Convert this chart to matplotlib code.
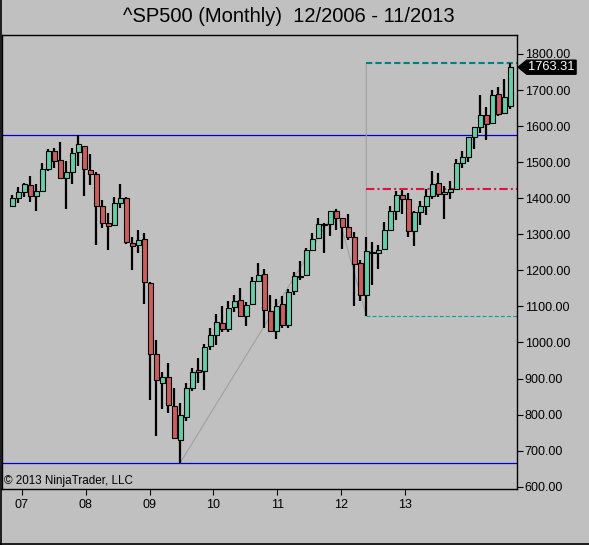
import numpy as np
import matplotlib
matplotlib.use("Agg")
import matplotlib.pyplot as plt
from matplotlib.patches import Polygon
from matplotlib.lines import Line2D
from matplotlib.transforms import blended_transform_factory

plt.rcParams['font.family'] = ['Liberation Sans', 'DejaVu Sans']

# monthly bars, first bar = Nov 2006, last = Oct 2013 (84 bars)
opens = [1377.34, 1400.63, 1418.03, 1437.90, 1406.80, 1420.83, 1482.37, 1530.62, 1504.66, 1455.18,
         1473.96, 1527.29, 1545.79, 1479.63, 1467.97, 1378.60, 1330.45, 1326.41, 1385.97, 1399.62,
         1276.69, 1269.42, 1287.83, 1164.17, 968.67, 888.61, 902.99, 823.09, 729.57, 793.59,
         872.74, 923.26, 920.82, 990.22, 1019.52, 1054.91, 1036.18, 1098.89, 1116.56, 1073.89,
         1105.36, 1171.23, 1188.58, 1087.30, 1031.10, 1107.53, 1049.72, 1143.49, 1183.27, 1186.60,
         1257.62, 1289.14, 1328.64, 1329.48, 1365.21, 1345.20, 1320.64, 1292.59, 1219.12, 1131.21,
         1251.00, 1246.91, 1258.86, 1312.45, 1365.90, 1408.47, 1397.86, 1309.87, 1362.33, 1379.32,
         1406.54, 1440.90, 1412.20, 1416.18, 1426.19, 1498.11, 1514.68, 1569.18, 1597.55, 1631.71,
         1609.78, 1689.42, 1635.95, 1657.00]
highs = [1407.89, 1431.81, 1441.61, 1461.57, 1438.89, 1498.02, 1535.56, 1540.56, 1555.90, 1503.89,
         1538.74, 1576.09, 1545.79, 1523.57, 1471.77, 1396.02, 1359.68, 1404.57, 1440.24, 1404.05,
         1292.17, 1313.15, 1303.04, 1167.03, 1007.51, 918.85, 943.85, 875.01, 832.98, 888.70,
         930.17, 956.23, 996.68, 1039.47, 1080.15, 1101.36, 1113.69, 1130.38, 1150.45, 1112.42,
         1180.69, 1219.80, 1205.13, 1131.23, 1120.95, 1129.24, 1148.90, 1196.14, 1227.08, 1262.60,
         1302.67, 1344.07, 1332.28, 1364.56, 1370.58, 1345.20, 1356.48, 1307.38, 1229.29, 1292.66,
         1277.55, 1269.37, 1333.47, 1378.04, 1419.15, 1422.38, 1415.32, 1363.46, 1391.74, 1426.68,
         1474.51, 1470.96, 1434.27, 1448.00, 1509.94, 1530.94, 1570.28, 1597.57, 1687.18, 1654.19,
         1698.78, 1709.67, 1729.86, 1775.22]
lows = [1377.34, 1385.93, 1403.97, 1389.42, 1363.98, 1416.37, 1476.70, 1484.18, 1454.25, 1370.60,
        1439.29, 1489.56, 1406.10, 1435.65, 1270.05, 1316.75, 1256.98, 1324.35, 1373.07, 1272.00,
        1200.44, 1248.64, 1106.42, 839.80, 741.02, 815.69, 804.22, 734.52, 666.79, 783.32,
        866.10, 888.86, 869.32, 978.51, 991.97, 1029.38, 1029.38, 1085.89, 1071.59, 1044.50,
        1105.36, 1170.69, 1040.78, 1028.33, 1010.91, 1039.70, 1039.70, 1131.87, 1173.00, 1186.60,
        1257.62, 1289.14, 1249.05, 1294.70, 1311.80, 1258.07, 1282.86, 1101.54, 1114.22, 1074.77,
        1158.66, 1202.37, 1258.86, 1312.45, 1340.03, 1357.38, 1291.98, 1266.74, 1325.41, 1354.65,
        1396.56, 1403.28, 1343.35, 1398.11, 1426.19, 1485.01, 1501.48, 1536.03, 1581.28, 1560.33,
        1604.57, 1627.47, 1633.41, 1646.47]
closes = [1400.63, 1418.30, 1438.24, 1406.82, 1420.86, 1482.37, 1530.62, 1503.35, 1455.27, 1473.99,
          1526.75, 1549.38, 1481.14, 1468.36, 1378.55, 1330.63, 1322.70, 1385.59, 1400.38, 1280.00,
          1267.38, 1282.83, 1166.36, 968.75, 896.24, 903.25, 825.88, 735.09, 797.87, 872.81,
          919.14, 919.32, 987.48, 1020.62, 1057.08, 1036.19, 1095.63, 1115.10, 1073.87, 1104.49,
          1169.43, 1186.69, 1089.41, 1030.71, 1101.60, 1049.33, 1141.20, 1183.26, 1180.55, 1257.64,
          1286.12, 1327.22, 1325.83, 1363.61, 1345.20, 1320.64, 1292.28, 1218.89, 1131.42, 1253.30,
          1246.96, 1257.60, 1312.41, 1365.68, 1408.47, 1397.91, 1310.33, 1362.16, 1379.32, 1406.58,
          1440.67, 1412.16, 1416.18, 1426.19, 1498.11, 1514.68, 1569.19, 1597.57, 1630.74, 1606.28,
          1685.73, 1632.97, 1681.55, 1763.31]

year_labels = ['07', '08', '09', '10', '11', '12', '13']
y_ticks = [600, 700, 800, 900, 1000, 1100, 1200, 1300, 1400, 1500, 1600, 1700, 1800]

opens = np.array(opens)
highs = np.array(highs)
lows = np.array(lows)
closes = np.array(closes)
idx = np.arange(len(closes))

BG = '#c0c0c0'
UP = '#66cdaa'
DOWN = '#cd5c5c'

fig = plt.figure(figsize=(5.89, 5.45), dpi=100, facecolor=BG)
ax = fig.add_axes([1.5 / 589, 1 - 489 / 545, 515.5 / 589, 454.5 / 545])
ax.set_facecolor(BG)
x_right = 84.12
ax.set_xlim(-1.8, x_right)
ax.set_ylim(593.7, 1854)

# candles
up = closes >= opens
ax.vlines(idx, lows, highs, color='black', lw=1.6, zorder=3)
body_lo = np.minimum(opens, closes)
body_h = np.maximum(np.abs(closes - opens), 1.0)
ax.bar(idx, body_h, bottom=body_lo, width=0.74,
       color=np.where(up, UP, DOWN), edgecolor='black', linewidth=0.8, zorder=4)

# horizontal levels (2007 top, 2009 bottom)
ax.axhline(highs[:14].max(), color='#0000c8', lw=0.9, zorder=2)
ax.axhline(lows.min(), color='#0000c8', lw=0.9, zorder=2)

# zigzag: 2009 low -> 2011 high -> 2011 low, then up to the recent high
i0 = int(np.argmin(lows))
i1 = int(np.argmax(highs[40:60])) + 40
i2 = int(np.argmin(lows[50:70])) + 50
top = highs.max()
ax.plot([i0, i1, i2, i2], [lows[i0], highs[i1], lows[i2], top],
        color='#a0a0a0', lw=0.8, zorder=2)

# retracement lines
ax.plot([i2, x_right], [top, top], color='#008080', lw=1.5, dashes=(3, 1.5), zorder=2)
ax.plot([i2, x_right], [lows[i2], lows[i2]], color='#00a0a0', lw=0.8, dashes=(3.5, 2), zorder=2)
mid = (top + lows[i2]) / 2
ax.plot([i2, x_right], [mid, mid], color='#dc143c', lw=1.5, dashes=(4, 1.5, 1, 1.5), zorder=2)

# axes styling
for s in ax.spines.values():
    s.set_color('black')
    s.set_linewidth(1.0)

ax.yaxis.tick_right()
ax.set_yticks(y_ticks)
ax.set_yticklabels([f'{v:.2f}' for v in y_ticks])
ax.tick_params(axis='y', direction='out', length=4, width=0.8, pad=1.5, labelsize=9, colors='black')

tick_pos = 1.57 + 10.65 * np.arange(len(year_labels))
ax.set_xticks(tick_pos)
ax.set_xticklabels(year_labels)
ax.tick_params(axis='x', direction='out', length=4, width=0.8, pad=3, labelsize=9, colors='black')

# last price marker
tr = blended_transform_factory(ax.transAxes, ax.transData)
last = closes[-1]
dy = 19.5
ax.add_patch(Polygon([(1.002, last), (1.019, last + dy), (1.1146, last + dy),
                      (1.1146, last - dy), (1.019, last - dy)],
                     closed=True, transform=tr, facecolor='black', edgecolor='black',
                     clip_on=False, zorder=5))
ax.text(1.022, last, f'{last:.2f}', transform=tr, color='white', fontsize=9.3,
        va='center', ha='left', clip_on=False, zorder=6)

ax.text(0.004, 0.017, '\u00a9 2013 NinjaTrader, LLC', transform=ax.transAxes,
        fontsize=8.4, va='center', ha='left')

fig.text(0.4907, 1 - 17 / 545, '^SP500 (Monthly)  12/2006 - 11/2013',
         ha='center', va='center', fontsize=14.5)

# window border
fig.add_artist(Line2D([0.5 / 589, 0.5 / 589], [0, 1], transform=fig.transFigure, color='black', lw=1.2))
fig.add_artist(Line2D([0, 1], [0.8 / 545, 0.8 / 545], transform=fig.transFigure, color='black', lw=1.2))

fig.savefig('out.png', dpi=100, facecolor=BG)
